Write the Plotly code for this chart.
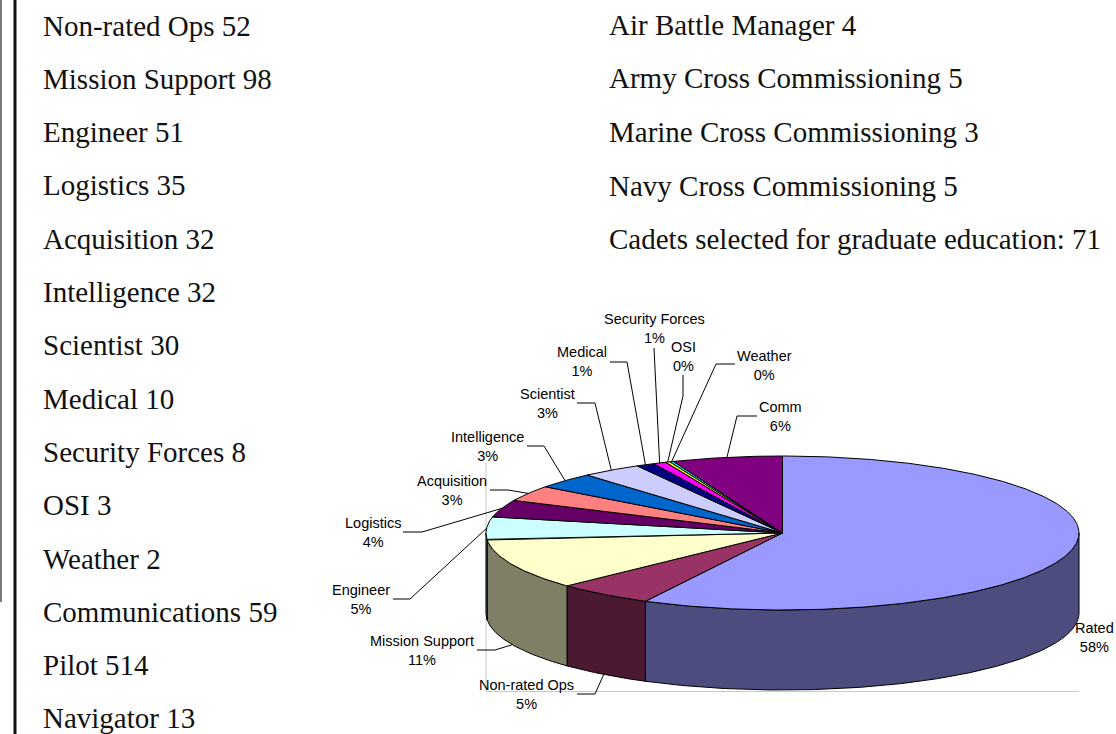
import numpy as np
import plotly.graph_objects as go

# ---------------- data ----------------
left_names = ["Non-rated Ops", "Mission Support", "Engineer", "Logistics", "Acquisition",
              "Intelligence", "Scientist", "Medical", "Security Forces", "OSI", "Weather",
              "Communications", "Pilot", "Navigator"]
left_counts = [52, 98, 51, 35, 32, 32, 30, 10, 8, 3, 2, 59, 514, 13]

right_names = ["Air Battle Manager", "Army Cross Commissioning",
               "Marine Cross Commissioning", "Navy Cross Commissioning"]
right_counts = [4, 5, 3, 5]
grad_label = "Cadets selected for graduate education:"
grad_count = 71

pie_labels = ["Rated", "Non-rated Ops", "Mission Support", "Engineer", "Logistics",
              "Acquisition", "Intelligence", "Scientist", "Medical", "Security Forces",
              "OSI", "Weather", "Comm"]
pie_values = [57.65, 5.3, 10.6, 4.8, 3.6, 3.3, 3.3, 3.3, 1.0, 0.7, 0.25, 0.2, 6.0]
pie_colors = ["#9999FF", "#993366", "#FFFFCC", "#CCFFFF", "#660066", "#FF8080",
              "#0066CC", "#CCCCFF", "#000080", "#FF00FF", "#FFFF00", "#00FFFF", "#800080"]

# ---------------- layout (pixel geometry) ----------------
W, H = 1116, 734
CX, CY, RX, RY, DEPTH = 782.5, 533.0, 296.5, 77.0, 80.0

label_pos = {
    "Rated": (1094, 637), "Non-rated Ops": (526, 694), "Mission Support": (422, 650),
    "Engineer": (361, 599), "Logistics": (373, 532), "Acquisition": (452, 490),
    "Intelligence": (487, 446), "Scientist": (547, 403), "Medical": (582, 361),
    "Security Forces": (654, 328), "OSI": (683, 356), "Weather": (764, 365),
    "Comm": (780, 416),
}
leader_elbows = {
    "Rated": None, "Non-rated Ops": [(595, 694), (577, 694)],
    "Mission Support": [(495, 650), (477, 650)], "Engineer": [(410, 599), (393, 599)],
    "Logistics": [(422, 532), (403, 532)], "Acquisition": [(508, 490), (490, 490)],
    "Intelligence": [(544, 446), (527, 446)], "Scientist": [(595, 403), (577, 403)],
    "Medical": [(627, 362), (610, 362)], "Security Forces": [(654, 348)],
    "OSI": [(683, 396), (683, 375)], "Weather": [(716, 364), (735, 364)],
    "Comm": [(737, 416), (757, 416)],
}


def darken(hexcol, f=0.5):
    r, g, b = (int(hexcol[i:i + 2], 16) for i in (1, 3, 5))
    return "rgb(%d,%d,%d)" % (r * f, g * f, b * f)


def arc(a, b, dy=0.0):
    n = max(3, int(abs(b - a) * 2) + 2)
    t = np.radians(np.linspace(a, b, n))
    return CX + RX * np.sin(t), CY - RY * np.cos(t) + dy


vals = np.array(pie_values, dtype=float)
total = vals.sum()
ends = np.cumsum(vals) / total * 360.0
starts = np.concatenate([[0.0], ends[:-1]])

fig = go.Figure()

# side walls (visible front half: 90..270 deg)
for a, b, col in zip(starts, ends, pie_colors):
    lo, hi = max(a, 90.0), min(b, 270.0)
    if hi > lo:
        xt, yt = arc(lo, hi)
        xb, yb = arc(hi, lo, DEPTH)
        xs = np.concatenate([xt, xb, xt[:1]])
        ys = np.concatenate([yt, yb, yt[:1]])
        fig.add_trace(go.Scatter(x=xs, y=ys, mode="lines", fill="toself",
                                 fillcolor=darken(col), line=dict(color="black", width=1),
                                 hoverinfo="skip", showlegend=False))

# top faces
for a, b, col in zip(starts, ends, pie_colors):
    xa, ya = arc(a, b)
    xs = np.concatenate([[CX], xa, [CX]])
    ys = np.concatenate([[CY], ya, [CY]])
    fig.add_trace(go.Scatter(x=xs, y=ys, mode="lines", fill="toself",
                             fillcolor=col, line=dict(color="black", width=1),
                             hoverinfo="skip", showlegend=False))

# leader lines + labels
annotations = []
for name, a, b, v in zip(pie_labels, starts, ends, vals):
    m = (a + b) / 2.0
    t = np.radians(m)
    ax = CX + RX * np.sin(t)
    ay = CY - RY * np.cos(t) + (DEPTH if 90 < m < 270 else 0.0)
    elb = leader_elbows[name]
    if elb:
        lx = [ax] + [p[0] for p in elb]
        ly = [ay] + [p[1] for p in elb]
        fig.add_trace(go.Scatter(x=lx, y=ly, mode="lines",
                                 line=dict(color="black", width=1),
                                 hoverinfo="skip", showlegend=False))
    pct = int(round(v / total * 100))
    lxp, lyp = label_pos[name]
    annotations.append(dict(x=lxp, y=lyp, xref="x", yref="y", text=f"{name}<br>{pct}%",
                            showarrow=False, xanchor="center", yanchor="middle",
                            font=dict(family="Liberation Sans, Arial", size=14.5, color="black")))

# text lists
for i, (n, c) in enumerate(zip(left_names, left_counts)):
    annotations.append(dict(x=41, y=25.5 + 53.3 * i, xref="x", yref="y", text=f"{n} {c}",
                            showarrow=False, xanchor="left", yanchor="middle",
                            font=dict(family="Liberation Serif, Times New Roman", size=29, color="#111")))
right_texts = [f"{n} {c}" for n, c in zip(right_names, right_counts)] + [f"{grad_label} {grad_count}"]
for i, txt in enumerate(right_texts):
    annotations.append(dict(x=607, y=24.5 + 53.7 * i, xref="x", yref="y", text=txt,
                            showarrow=False, xanchor="left", yanchor="middle",
                            font=dict(family="Liberation Serif, Times New Roman", size=29, color="#111")))

shapes = [
    dict(type="line", xref="x", yref="y", x0=1, x1=1, y0=0, y1=602,
         line=dict(color="#7a7a7a", width=2)),
    dict(type="line", xref="x", yref="y", x0=15, x1=15, y0=0, y1=734,
         line=dict(color="#111111", width=3)),
    dict(type="line", xref="x", yref="y", x0=486, x1=486, y0=463, y1=692, layer="below",
         line=dict(color="#c8c8c8", width=1)),
    dict(type="line", xref="x", yref="y", x0=486, x1=1079, y0=691.5, y1=691.5, layer="below",
         line=dict(color="#c8c8c8", width=1)),
]

fig.update_layout(
    width=W, height=H, autosize=False,
    margin=dict(l=0, r=0, t=0, b=0),
    paper_bgcolor="white", plot_bgcolor="white",
    xaxis=dict(range=[0, W], visible=False, fixedrange=True),
    yaxis=dict(range=[H, 0], visible=False, fixedrange=True),
    showlegend=False,
    annotations=annotations,
    shapes=shapes,
)

fig.write_html("out.html", config={"displayModeBar": False},
               post_script="document.body.style.margin='0';document.body.style.overflow='hidden';")
